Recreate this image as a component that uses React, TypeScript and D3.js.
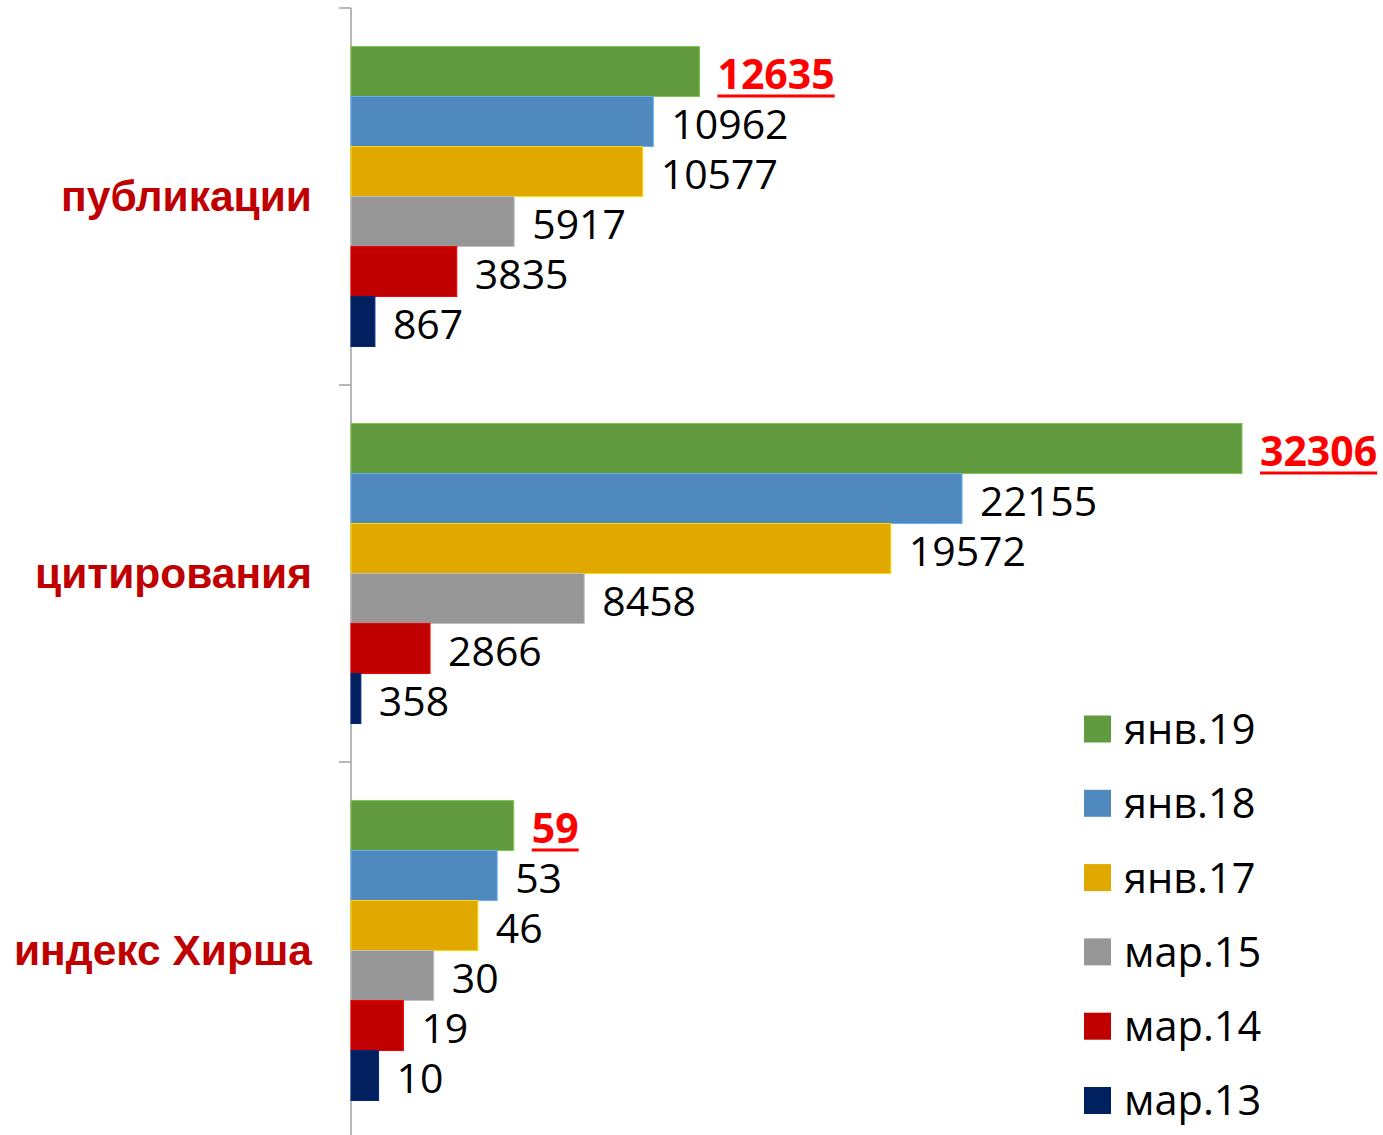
import { useEffect, useRef } from "react";
import * as d3 from "d3";

const categories = ["публикации", "цитирования", "индекс Хирша"];
const seriesNames = ["янв.19", "янв.18", "янв.17", "мар.15", "мар.14", "мар.13"];
const seriesColors = ["#629B3F", "#4F89BD", "#E1A900", "#969696", "#C00000", "#002060"];

// values per category, in series order
const publications = [12635, 10962, 10577, 5917, 3835, 867];
const citations = [32306, 22155, 19572, 8458, 2866, 358];
const hirsch = [59, 53, 46, 30, 19, 10];
// the source chart draws the h-index bars x100 so they show up on the shared axis
const plotFactor = [1, 1, 100];

const xMax = 35000;

const App = () => {
    const svgRef = useRef(null);

    useEffect(() => {
        document.body.style.margin = "0";
        const width = 1383;
        const height = 1135;
        const axisX = 351;
        const svg = d3.select(svgRef.current);
        svg.selectAll("*").remove();
        svg.attr("width", width).attr("height", height).style("display", "block").style("background", "#fff");

        const rows = [publications, citations, hirsch];

        const x = d3.scaleLinear([0, xMax], [axisX, axisX + 0.02758 * xMax]);
        const y = d3.scaleBand(categories, [8, 8 + 377 * 3]);
        // 50px bars with ~38px gaps above and below each group
        const yInner = d3.scaleBand(seriesNames, [38.5, y.bandwidth() - 38.5]).padding(0);

        // axis line + ticks
        const axisG = svg.append("g");
        axisG.append("line")
            .attr("x1", axisX).attr("x2", axisX)
            .attr("y1", y.range()[0]).attr("y2", y.range()[1])
            .attr("stroke", "#A0A0A0").attr("stroke-width", 1.5);
        const tickYs = categories.map((c) => y(c)).concat([y.range()[1]]);
        axisG.selectAll("line.tick")
            .data(tickYs)
            .join("line")
            .attr("class", "tick")
            .attr("x1", axisX - 12).attr("x2", axisX)
            .attr("y1", (d) => d).attr("y2", (d) => d)
            .attr("stroke", "#A0A0A0").attr("stroke-width", 1.5);

        // category labels
        svg.append("g")
            .selectAll("text")
            .data(categories)
            .join("text")
            .attr("x", 312)
            .attr("y", (d) => y(d) + y.bandwidth() / 2)
            .attr("dy", "0.35em")
            .attr("text-anchor", "end")
            .style("font-family", "'Liberation Sans', Arial, sans-serif")
            .style("font-weight", "bold")
            .style("font-size", "42.5px")
            .attr("fill", "#C00000")
            .text((d) => d);

        categories.forEach((cat, ci) => {
            const g = svg.append("g").attr("transform", `translate(0, ${y(cat)})`);
            const data = rows[ci].map((v, si) => ({ v, si, name: seriesNames[si] }));

            g.selectAll("rect")
                .data(data)
                .join("rect")
                .attr("x", axisX)
                .attr("y", (d) => yInner(d.name))
                .attr("width", (d) => x(d.v * plotFactor[ci]) - axisX)
                .attr("height", yInner.bandwidth())
                .attr("fill", (d) => seriesColors[d.si])
                .attr("stroke", (d) => d3.color(seriesColors[d.si]).brighter(0.7).formatHex())
                .attr("stroke-width", 1);

            g.selectAll("text")
                .data(data)
                .join("text")
                .attr("x", (d) => x(d.v * plotFactor[ci]) + 18)
                .attr("y", (d) => yInner(d.name) + yInner.bandwidth() / 2 + 3)
                .attr("dy", "0.36em")
                .style("font-family", "'Open Sans', sans-serif")
                .style("font-size", "41px")
                .style("font-weight", (d) => (d.si === 0 ? "bold" : "normal"))
                .attr("fill", (d) => (d.si === 0 ? "#FF0000" : "#000"))
                .text((d) => d.v)
                .each(function (d) {
                    if (d.si !== 0) return;
                    const len = this.getComputedTextLength();
                    const tx = x(d.v * plotFactor[ci]) + 18;
                    const ty = yInner(d.name) + yInner.bandwidth() / 2 + 3;
                    g.append("rect")
                        .attr("x", tx)
                        .attr("y", ty + 20)
                        .attr("width", len)
                        .attr("height", 3)
                        .attr("fill", "#FF0000");
                });
        });

        // legend
        const legend = svg.append("g").attr("transform", "translate(1084, 729)");
        const item = legend.selectAll("g")
            .data(seriesNames)
            .join("g")
            .attr("transform", (d, i) => `translate(0, ${i * 74.3})`);
        item.append("rect")
            .attr("x", 0).attr("y", -13.5)
            .attr("width", 27).attr("height", 27)
            .attr("fill", (d, i) => seriesColors[i]);
        item.append("text")
            .attr("x", 40)
            .attr("y", 0)
            .attr("dy", "0.36em")
            .style("font-family", "'Open Sans', sans-serif")
            .style("font-size", "41.5px")
            .attr("fill", "#000")
            .text((d) => d);
    }, []);

    return <svg ref={svgRef}></svg>;
};

export default App;
